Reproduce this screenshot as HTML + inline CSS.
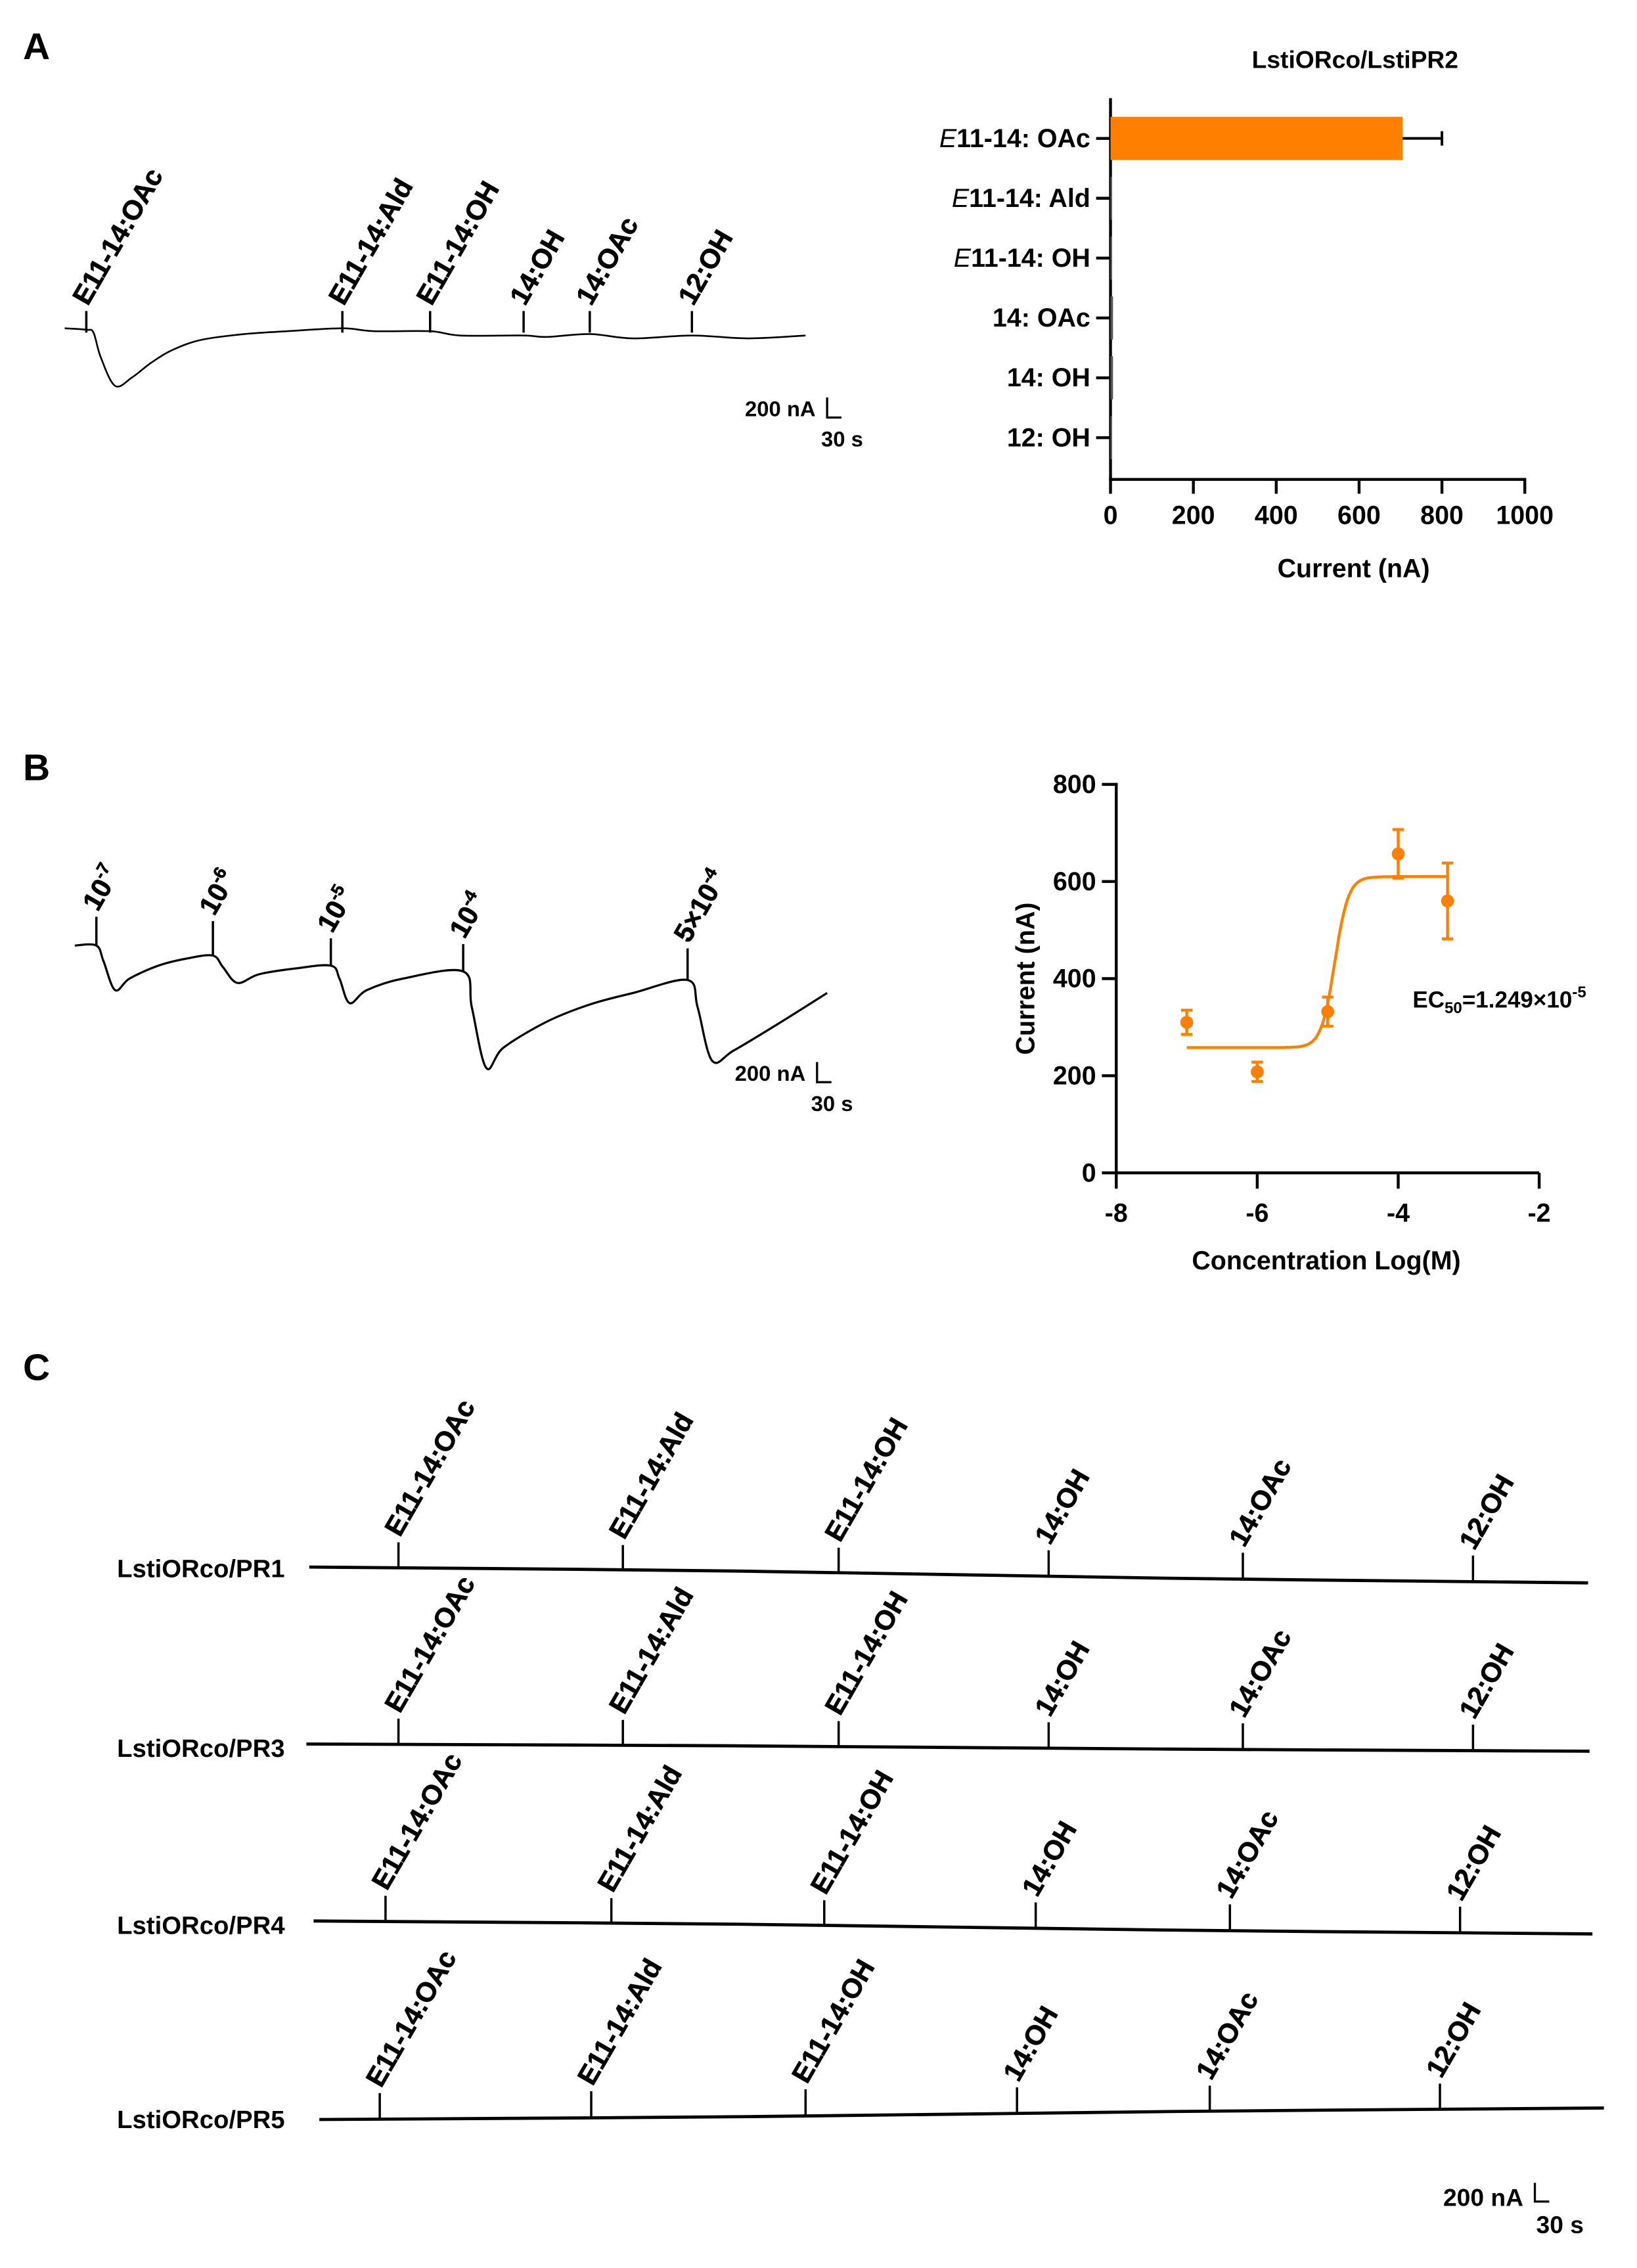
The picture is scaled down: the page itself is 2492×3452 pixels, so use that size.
<!DOCTYPE html>
<html><head><meta charset="utf-8"><style>
html,body{margin:0;padding:0;background:#fff}
svg{display:block}
text{font-family:"Liberation Sans",Arial,sans-serif;font-weight:bold;fill:#000}
</style></head><body>
<svg id="fig" width="2492" height="3452" viewBox="0 0 1138 1576" xmlns="http://www.w3.org/2000/svg">
<rect width="1138" height="1576" fill="#fff"/>
<text x="16" y="41" font-size="26">A</text>
<text x="16" y="542" font-size="26">B</text>
<text x="16" y="959" font-size="26">C</text>
<g id="g"></g>
</svg>
<script>
// ---- Bar chart data (panel A) ----
const barCats = ["E11-14: OAc","E11-14: Ald","E11-14: OH","14: OAc","14: OH","12: OH"];
const barVals = [705, 0, 2, 6, 6, 2];
const barErr = [95, 0, 0, 0, 0, 0];
const barTicks = [0,200,400,600,800,1000];
// ---- Dose response data (panel B) ----
const doseX = [-7, -6, -5, -4, -3.3];
const doseY = [310, 208, 332, 657, 560];
const doseErr = [25, 20, 30, 50, 78];
const doseXTicks = [-8,-6,-4,-2];
const doseYTicks = [0,200,400,600,800];
const fitBottom = 258, fitTop = 610, fitLogEC50 = -4.9, fitHill = 4.5;
// ---- Trace stimulus labels ----
const traceLabelsA = ["E11-14:OAc","E11-14:Ald","E11-14:OH","14:OH","14:OAc","12:OH"];
const doseLabels = ["10","10","10","10","5\u00D710"];
const doseExps = ["-7","-6","-5","-4","-4"];
const rowNames = ["LstiORco/PR1","LstiORco/PR3","LstiORco/PR4","LstiORco/PR5"];

const NS="http://www.w3.org/2000/svg";
const G=document.getElementById('g');
function mk(tag,attrs,parent){const e=document.createElementNS(NS,tag);for(const k in attrs)e.setAttribute(k,attrs[k]);(parent||G).appendChild(e);return e;}
function txt(x,y,s,size,anchor,extra){const t=mk('text',Object.assign({x:x,y:y,'font-size':size,'text-anchor':anchor||'start'},extra||{}));t.textContent=s;return t;}

// ===== Panel A bar chart =====
const bx=v=>772+v*(1060-772)/1000;
const by=i=>96+i*41.6;
let e;
e=txt(942,47,"LstiORco/LstiPR2",17,'middle');


e=mk('line',{x1:772,y1:68,x2:772,y2:334,stroke:'#000','stroke-width':2});


e=mk('line',{x1:771,y1:333,x2:1061,y2:333,stroke:'#000','stroke-width':2});


barTicks.forEach(v=>{
  mk('line',{x1:bx(v),y1:333,x2:bx(v),y2:343,stroke:'#000','stroke-width':2});
  e=txt(bx(v),364,String(v),18,'middle');
  
  
});
barCats.forEach((c,i)=>{
  const y=by(i);
  mk('line',{x1:762,y1:y,x2:772,y2:y,stroke:'#000','stroke-width':2});
  const t=mk('text',{x:758,y:y+6,'font-size':18,'text-anchor':'end'});
  if(c.startsWith('E')){const s=mk('tspan',{'font-style':'italic','font-weight':'normal'},t);s.textContent='E';const s2=mk('tspan',{},t);s2.textContent=c.slice(1);}
  else t.textContent=c;
  
  
  const w=Math.max(bx(barVals[i])-772,1);
  e=mk('rect',{x:772,y:y-15,width:w,height:30,fill:barVals[i]>100?'#ff8000':'#555'});
  
  
  if(barErr[i]>0){
    const x2=bx(barVals[i]+barErr[i]);
    mk('line',{x1:bx(barVals[i]),y1:y,x2:x2,y2:y,stroke:'#000','stroke-width':1.8});
    mk('line',{x1:x2,y1:y-5,x2:x2,y2:y+5,stroke:'#000','stroke-width':1.8});
  }
});
e=txt(941,401,"Current (nA)",18,'middle');



// ===== Panel B dose response =====
const dx=v=>776+(v+8)*(1070-776)/6;
const dy=v=>815-v*(815-545)/800;
e=mk('line',{x1:776,y1:544,x2:776,y2:816,stroke:'#000','stroke-width':2});


e=mk('line',{x1:775,y1:815,x2:1070,y2:815,stroke:'#000','stroke-width':2});


doseYTicks.forEach(v=>{mk('line',{x1:766,y1:dy(v),x2:776,y2:dy(v),stroke:'#000','stroke-width':2});
  e=txt(762,dy(v)+6,String(v),18,'end');
  
  });
doseXTicks.forEach(v=>{mk('line',{x1:dx(v),y1:815,x2:dx(v),y2:826,stroke:'#000','stroke-width':2});
  e=txt(dx(v),849,String(v),18,'middle',{'font-weight':'normal'});
  
  });
let pts=[];
for(let v=-7;v<=-3.3001;v+=0.02){const y=fitBottom+(fitTop-fitBottom)/(1+Math.pow(10,(fitLogEC50-v)*fitHill));pts.push(dx(v).toFixed(1)+','+dy(y).toFixed(1));}
e=mk('polyline',{points:pts.join(' '),fill:'none',stroke:'#ff8000','stroke-width':2});


doseX.forEach((v,i)=>{
  const x=dx(v),y=dy(doseY[i]),y1=dy(doseY[i]+doseErr[i]),y2=dy(doseY[i]-doseErr[i]);
  mk('line',{x1:x,y1:y1,x2:x,y2:y2,stroke:'#ff8000','stroke-width':2});
  mk('line',{x1:x-4,y1:y1,x2:x+4,y2:y1,stroke:'#ff8000','stroke-width':2});
  mk('line',{x1:x-4,y1:y2,x2:x+4,y2:y2,stroke:'#ff8000','stroke-width':2});
  e=mk('circle',{cx:x,cy:y,r:4.5,fill:'#ff8000'});
  
  
});
e=txt(0,0,"Current (nA)",18,'middle',{transform:'translate(719,680) rotate(-90)'});


e=txt(922,882,"Concentration Log(M)",18,'middle');


e=mk('text',{x:982,y:700,'font-size':16});
e.innerHTML='EC<tspan font-size="11" dy="4">50</tspan><tspan dy="-4">=1.249×10</tspan><tspan font-size="11" dy="-7">-5</tspan>';



// ===== Traces (smoothed) =====
function trace(p,name,w){
  let d='M'+p[0][0]+','+p[0][1];
  for(let i=0;i<p.length-1;i++){
    const p0=p[i-1]||p[i],p1=p[i],p2=p[i+1],p3=p[i+2]||p2;
    const c1=[p1[0]+(p2[0]-p0[0])/6,p1[1]+(p2[1]-p0[1])/6],c2=[p2[0]-(p3[0]-p1[0])/6,p2[1]-(p3[1]-p1[1])/6];
    d+=' C'+c1.join(',')+' '+c2.join(',')+' '+p2.join(',');
  }
  const el=mk('path',{d:d,fill:'none',stroke:'#000','stroke-width':w||1.4});
  
  }
function stim(x,yTop,yBot,label,exp){
  mk('line',{x1:x,y1:yTop,x2:x,y2:yBot,stroke:'#000','stroke-width':1.6});
  const t=mk('text',{x:0,y:0,'font-size':19,'font-weight':'normal','stroke':'#000','stroke-width':0.35,transform:'translate('+(x+1)+','+(yTop-3)+') rotate(-60)'});
  if(exp){t.innerHTML=label+'<tspan font-size="12" dy="-8">'+exp+'</tspan>';}else t.textContent=label;
  
  
}
// Panel A trace
trace([[45,228],[60,229],[65,231],[70,248],[80,268],[92,262],[105,252],[120,243],[140,236],[170,232],[200,230],[238,228],[260,230],[299,230],[320,233],[364,233],[380,234],[410,232],[440,235],[481,233],[520,235],[560,233]],'trace-a',1.2);
[60,238,299,364,410,481].forEach((x,i)=>stim(x,216,231,traceLabelsA[i]));
function scalebar(x,y,nm){
  e=txt(x-8,y+5,"200 nA",15,'end');
  
  
  mk('polyline',{points:(x)+','+(y-8)+' '+x+','+(y+6)+' '+(x+10)+','+(y+6),fill:'none',stroke:'#000','stroke-width':1.5});
  e=txt(x+25,y+26,"30 s",15,'end');
  
  
}
scalebar(575,284,'a');
// Panel B trace
trace([[52,657],[67,657],[72,668],[80,688],[90,680],[110,671],[130,666],[148,664],[155,672],[165,683],[180,677],[205,673],[230,671],[236,680],[243,697],[255,688],[280,680],[322,675],[328,700],[338,742],[350,728],[380,710],[410,698],[440,690],[478,681],[485,700],[495,737],[510,730],[540,712],[575,690]],'trace-b',1.5);
[[67,637,657],[148,640,664],[230,652,671],[322,656,675],[478,659,681]].forEach((s,i)=>stim(s[0],s[1],s[2],doseLabels[i],doseExps[i]));
scalebar(568,746,'b');
// Panel C traces
const rows=[
 {y:1090,x0:215,x1:1104,y0:1089,y1:1100,ticks:[277,433,583,729,864,1024]},
 {y:1215,x0:213,x1:1105,y0:1212,y1:1217,ticks:[277,433,583,729,864,1024]},
 {y:1338,x0:218,x1:1107,y0:1335,y1:1344,ticks:[268,425,573,720,855,1015]},
 {y:1473,x0:222,x1:1115,y0:1473,y1:1465,ticks:[264,411,560,707,841,1001]}];
rows.forEach((r,ri)=>{
  e=txt(198,r.y+6,rowNames[ri],17.5,'end');
  
  
  trace([[r.x0,r.y0],[(r.x0*2+r.x1)/3,r.y0+(r.y1-r.y0)*0.25],[(r.x0+r.x1*2)/3,r.y0+(r.y1-r.y0)*0.7],[r.x1,r.y1]],'trace-c-'+ri,2.2);
  r.ticks.forEach((x,i)=>{const yb=r.y0+(r.y1-r.y0)*(x-r.x0)/(r.x1-r.x0);stim(x,yb-18,yb,traceLabelsA[i]);});
});
e=txt(1059,1533,"200 nA",17,'end');


mk('polyline',{points:'1067,1517 1067,1530 1077,1530',fill:'none',stroke:'#000','stroke-width':1.5});
e=txt(1101,1552,"30 s",17,'end');


</script>
</body></html>
